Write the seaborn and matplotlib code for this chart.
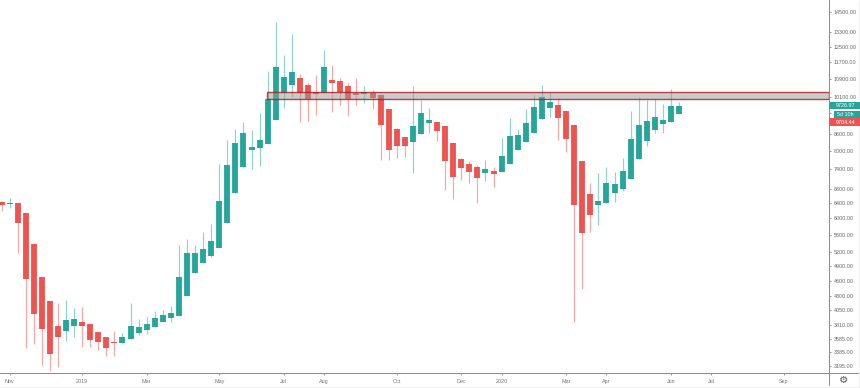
import numpy as np
import pandas as pd
import matplotlib
matplotlib.use("Agg")
import matplotlib.pyplot as plt
from matplotlib.lines import Line2D
from matplotlib.patches import Rectangle
import seaborn as sns

opens = [6438,6388,6402,6134,5380,4678,4212,3790,3705,3794,3855,3822,3698,3616,3539,3529,3580,
         3683,3730,3778,3850,3916,3960,4314,4747,4967,5111,5289,5885,6699,7492,8050,8109,8238,
         9128,10271,10614,10936,10600,10301,10244,10857,10783,10555,10271,10214,10271,10170,9567,8795,8499,
         8337,8620,9012,9062,8908,8295,7736,7583,7467,7287,7350,7309,7583,8050,8309,8657,9179,
         9620,9745,9486,8958,7661,6653,6364,6410,6690,6814,7094,7746,8355,8746,8985,9073,9389]
highs = [6465,6549,6402,6134,5380,4678,4212,4176,4235,4093,4115,3822,3698,3616,3714,3673,4186,
         3900,3943,4035,4058,4128,5350,5489,5357,5656,5853,7573,8391,8795,9073,8757,9405,11283,
         13876,12066,13199,11111,10691,11078,12327,11561,10922,10691,10922,10555,10390,10170,9567,8844,8499,
         10555,9955,9608,9062,8908,8295,7753,7671,7531,7703,7486,8463,9206,8795,9579,10170,10614,
         10314,10041,9486,8958,7661,6991,7278,7467,7309,7760,9498,10096,9955,9985,9774,10434,9883]
lows = [6203,6275,5184,3454,3505,3212,3127,3185,3559,3620,3469,3469,3420,3338,3338,3529,3580,
        3651,3662,3778,3850,3860,3960,4314,4747,4967,5083,5289,5885,6699,7492,7422,7518,8238,
        9128,9633,10071,9073,9101,9349,10244,9470,9745,9297,9745,9841,9579,7703,7703,7760,7813,
        7297,8620,8657,8355,6777,6521,7072,6991,6419,7051,6855,7309,7583,8050,8309,8657,9179,
        9269,8391,7982,3860,4433,5670,5843,6410,6446,6756,7094,7746,8189,8657,8635,9073,9389]
closes = [6364,6410,5878,4627,3989,3746,3362,3620,3888,3900,3790,3570,3535,3454,3527,3620,3790,
          3769,3827,3916,3977,4011,4672,5184,5184,5260,5442,6465,7541,8295,8635,8144,8380,9998,
          11448,10983,11235,10244,9985,10227,11448,10705,10301,9985,10183,10288,10053,8958,8040,8178,8189,
          8897,9405,9128,8731,7671,7173,7435,7318,7142,7413,7256,7836,8525,8572,9012,9674,10071,
          9858,9218,8438,6356,5646,6082,6457,6973,6944,7340,8416,8958,9120,9246,9140,9715,9715]

price_ticks = [14500,13300,12500,11700,10900,10100,9400,8600,8000,7400,6800,6400,6000,
               5600,5200,4900,4600,4300,4050,3810,3585,3385,3195]
hidden_ticks = [9400]
date_labels = ["Nov","2019","Mar","May","Jul","Aug","Oct","Dec","2020","Mar","Apr","Jun","Jul","Sep"]
date_weeks = [1,10,18,27,35,40,49,57,62,70,75,83,88,97]
zone_low, zone_high, zone_start = 9998, 10315, 32.9

GREEN, RED = "#26a69a", "#ef5350"
W, H = 860, 388
AX_RIGHT, AX_BOTTOM = 829, 373
FONT = "Liberation Sans"
GREY = "#8e8e8e"

sns.set_theme(style="white")
plt.rcParams["font.family"] = FONT

weeks = np.arange(len(opens))
direction = np.where(np.array(closes) >= np.array(opens), "up", "down")
wide = pd.DataFrame(dict(week=weeks, dir=direction, o=opens, h=highs, l=lows, c=closes))
wicks = wide.melt(id_vars=["week", "dir"], value_vars=["h", "l"], value_name="price")
bodies = wide.melt(id_vars=["week", "dir"], value_vars=["o", "c"], value_name="price")
palette = {"up": GREEN, "down": RED}

fig = plt.figure(figsize=(W / 100, H / 100), dpi=100, facecolor="white")
ax = fig.add_axes([0, (H - AX_BOTTOM) / H, AX_RIGHT / W, AX_BOTTOM / H])
ax.set_yscale("log")

sns.lineplot(data=wicks, x="week", y="price", hue="dir", units="week", estimator=None,
             palette=palette, linewidth=0.85, alpha=0.5, legend=False, ax=ax,
             solid_capstyle="butt", zorder=2)
sns.lineplot(data=bodies, x="week", y="price", hue="dir", units="week", estimator=None,
             palette=palette, linewidth=4.2, legend=False, ax=ax,
             solid_capstyle="butt", zorder=3)

ax.set_xlim(-0.186, 102.59)
ax.set_ylim(3100, 15263)
ax.add_patch(Rectangle((zone_start, zone_low), 102.59 - zone_start, zone_high - zone_low,
                       facecolor=(0.6, 0.6, 0.6, 0.5), edgecolor=(0.65, 0.1, 0.1, 0.8),
                       linewidth=1.0, zorder=4))

ax.set_xlabel(""); ax.set_ylabel("")
ax.yaxis.tick_right()
ax.minorticks_off()
ax.set_yticks(price_ticks, ["" if v in hidden_ticks else f"{v:.2f}" for v in price_ticks])
ax.yaxis.set_minor_locator(matplotlib.ticker.NullLocator())
ax.set_xticks(date_weeks, date_labels)
ax.tick_params(axis="y", length=1.3, width=0.6, color=GREY, pad=2.2, labelsize=3.9,
               labelcolor="#666666", right=True, left=False)
ax.tick_params(axis="x", length=1.3, width=0.6, color=GREY, pad=3.2, labelsize=3.9,
               labelcolor="#777777", bottom=True)
for s in ("top", "left"):
    ax.spines[s].set_visible(False)
for s in ("right", "bottom"):
    ax.spines[s].set_color(GREY)
    ax.spines[s].set_linewidth(0.75)
ax.grid(False)

fx = lambda x: x / W
fy = lambda y: 1 - y / H
fig.add_artist(Line2D([fx(AX_RIGHT), fx(858)], [fy(AX_BOTTOM)] * 2, color=GREY, lw=0.75))
fig.add_artist(Line2D([fx(AX_RIGHT)] * 2, [fy(AX_BOTTOM), fy(385)], color=GREY, lw=0.75))
fig.add_artist(Line2D([0, 1], [fy(386.5)] * 2, color="#eeeeee", lw=0.7))
fig.add_artist(Line2D([fx(858.5)] * 2, [0, 1], color="#f0f0f0", lw=0.7))

for x0, x1, y0, y1, col, txt in [(AX_RIGHT, 860, 101.5, 109.3, GREEN, "9726.97"),
                                  (834, 860, 110.5, 118.3, GREEN, "5d 10h"),
                                  (AX_RIGHT, 860, 118.5, 126, RED, "9704.44")]:
    fig.add_artist(Rectangle((fx(x0), fy(y1)), fx(x1 - x0), (y1 - y0) / H, transform=fig.transFigure,
                             facecolor=col, edgecolor="none", zorder=5))
    fig.text(fx(845.5), fy((y0 + y1) / 2), txt, color="white", fontsize=3.9, ha="center",
             va="center", zorder=6)

fig.text(fx(844), fy(380), "\u2699", family="DejaVu Sans", fontsize=7.5, color="#555555",
         ha="center", va="center")

fig.savefig("out.png", dpi=100, facecolor="white")
